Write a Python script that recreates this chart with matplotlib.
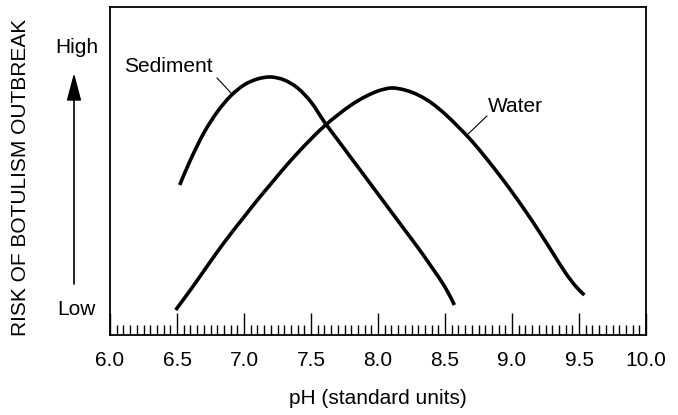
import matplotlib
matplotlib.use("Agg")
import numpy as np
import matplotlib.pyplot as plt
from matplotlib.patches import FancyArrowPatch, PathPatch
from matplotlib.path import Path
from matplotlib.ticker import MultipleLocator

plt.rcParams['font.family'] = ['Liberation Sans', 'DejaVu Sans']

# pH values and relative risk (arbitrary height units)
sediment_ph = [6.52, 6.6, 6.7, 6.8, 6.9, 7.0, 7.1, 7.2, 7.3, 7.4, 7.5, 7.6,
               7.7, 7.8, 7.9, 8.0, 8.1, 8.2, 8.3, 8.4, 8.5, 8.57]
sediment_risk = [150, 175, 202, 223, 239, 250, 256, 258, 255, 247, 233, 213,
                 195, 177, 159, 141, 123, 105, 87, 68, 48, 30]

water_ph = [6.49, 6.6, 6.7, 6.8, 6.9, 7.0, 7.1, 7.2, 7.3, 7.4, 7.5, 7.6, 7.7, 7.8,
            7.9, 8.0, 8.1, 8.2, 8.3, 8.4, 8.5, 8.6, 8.7, 8.8, 8.9, 9.0, 9.1, 9.2,
            9.3, 9.4, 9.48, 9.54]
water_risk = [25, 45, 64, 83, 101, 118, 135, 151, 167, 182, 196, 209, 220, 230,
              238, 244, 247, 245, 240, 232, 221, 208, 194, 178, 161, 143, 124, 104,
              83, 62, 48, 40]

xticks = [6.0, 6.5, 7.0, 7.5, 8.0, 8.5, 9.0, 9.5, 10.0]


def smooth_line(xs, ys):
    # Catmull-Rom style bezier through the read points (drawing only)
    pts = np.column_stack([xs, ys]).astype(float)
    verts = [pts[0]]
    codes = [Path.MOVETO]
    for i in range(len(pts) - 1):
        p0 = pts[i - 1] if i > 0 else pts[i]
        p1 = pts[i]
        p2 = pts[i + 1]
        p3 = pts[i + 2] if i + 2 < len(pts) else pts[i + 1]
        verts += [p1 + (p2 - p0) / 6, p2 - (p3 - p1) / 6, p2]
        codes += [Path.CURVE4] * 3
    return Path(verts, codes)


fig = plt.figure(figsize=(6.78, 4.15), dpi=100)
ax = fig.add_axes([110 / 678, 80 / 415, 536 / 678, 328 / 415])

for xs, ys in [(sediment_ph, sediment_risk), (water_ph, water_risk)]:
    ax.add_patch(PathPatch(smooth_line(xs, ys), fill=False, edgecolor='black',
                           lw=2.6, capstyle='butt', joinstyle='round'))

ax.set_xlim(6.0, 10.0)
ax.set_ylim(0, 328)
ax.set_xticks(xticks)
ax.set_xticklabels(['%.1f' % t for t in xticks])
ax.xaxis.set_minor_locator(MultipleLocator(0.05))
ax.tick_params(axis='x', which='major', direction='in', length=16, width=1.0, pad=11.5, labelsize=15)
ax.tick_params(axis='x', which='minor', direction='in', length=7, width=1.0)
ax.tick_params(axis='y', left=False, labelleft=False)
for s in ax.spines.values():
    s.set_linewidth(1.3)

ax.set_xlabel('pH (standard units)', fontsize=15, labelpad=14)

# curve labels with leader lines
ax.text(6.433, 263, 'Sediment', fontsize=15, ha='center', va='baseline')
ax.plot([6.799, 6.903], [257, 242], color='black', lw=0.8)
ax.text(9.022, 223, 'Water', fontsize=15, ha='center', va='baseline')
ax.plot([8.813, 8.672], [219, 201], color='black', lw=0.8)

# y axis description
tr = fig.dpi_scale_trans
fig.text(0.21, 2.38, 'RISK OF BOTULISM OUTBREAK', fontsize=15, rotation=90,
         ha='center', va='center', transform=tr)
fig.text(0.77, 4.15 - 0.53, 'High', fontsize=15, ha='center', va='baseline', transform=tr)
fig.text(0.76, 4.15 - 3.15, 'Low', fontsize=15, ha='center', va='baseline', transform=tr)
arrow = FancyArrowPatch((0.74, 4.15 - 2.84), (0.74, 4.15 - 0.73), transform=tr,
                        arrowstyle='-|>,head_length=1.7,head_width=0.45',
                        mutation_scale=10, color='black', lw=1.2, shrinkA=0, shrinkB=0)
fig.add_artist(arrow)

fig.savefig('out.png', dpi=100)
